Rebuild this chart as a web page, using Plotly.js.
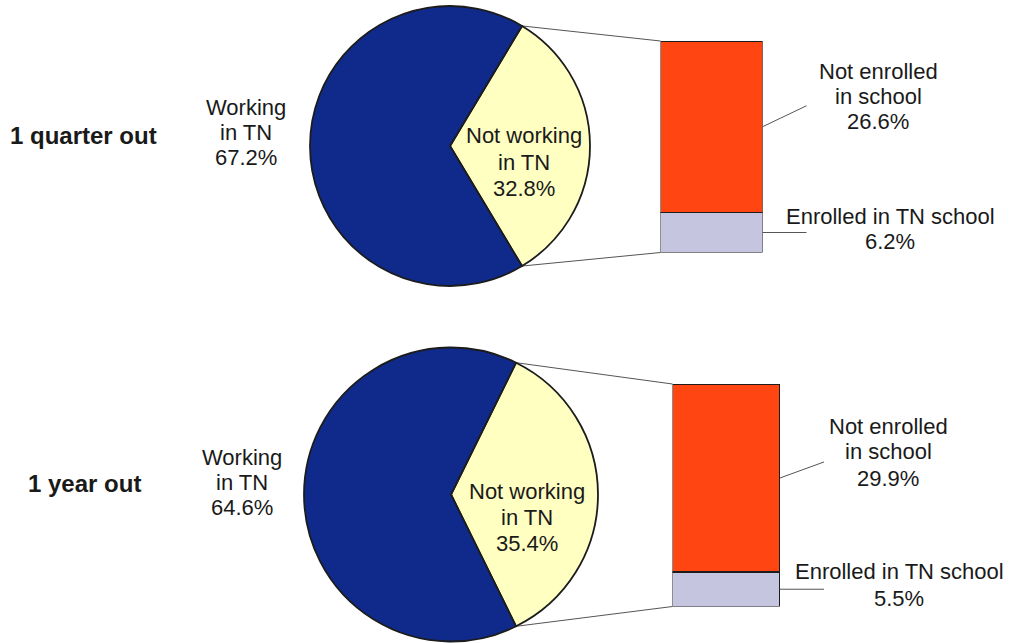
<!DOCTYPE html>
<html>
<head>
<meta charset="utf-8">
<script src="https://cdn.plot.ly/plotly-3.0.1.min.js"></script>
<style>html,body{margin:0;padding:0;background:#fff;}</style>
</head>
<body>
<div id="chart" style="width:1020px;height:643px;"></div>
<script>
// Where graduates are, by time since leaving (percent of all graduates)
const periods = ['1 quarter out', '1 year out'];
const workingInTN = [67.2, 64.6];
const notWorkingInTN = [32.8, 35.4];
const notEnrolled = [26.6, 29.9];
const enrolledInTN = [6.2, 5.5];

// Category text, one entry per drawn line
const workingText = ['Working', 'in TN'];
const notWorkingText = ['Not working', 'in TN'];
const notEnrolledText = ['Not enrolled', 'in school'];
const enrolledText = ['Enrolled in TN school'];

// Page geometry in pixels
const W = 1020, H = 643;
const FONT = '"Liberation Sans", Arial, sans-serif';
const FS = 22;
const COLORS = {
  working: '#0f2a8a',
  notWorking: '#ffffc2',
  notEnrolled: '#ff4511',
  enrolled: '#c5c5df',
  edge: '#1c1c1c',
  connector: '#555555',
  text: '#1a1a1a'
};

const panels = [
  {
    pie: {cx: 450, cy: 146, r: 140},
    bar: {x0: 660.5, x1: 762.5, y0: 41, y1: 252.5},
    periodPos: {x: 9, y: 135},
    workingPos: {x: 246, y: [108, 133, 158]},
    notWorkingPos: {x: 524, y: [135.5, 162, 188]},
    notEnrolledPos: {x: 878, y: [71.7, 96.7, 121.7]},
    enrolledPos: {x: 890, y: [216.7, 241.7]},
    leaderRise: 21
  },
  {
    pie: {cx: 451, cy: 494.5, r: 147},
    bar: {x0: 672.5, x1: 780, y0: 384, y1: 606.5},
    periodPos: {x: 27, y: 483},
    workingPos: {x: 242, y: [457, 482, 507]},
    notWorkingPos: {x: 527, y: [491, 517, 543.5]},
    notEnrolledPos: {x: 888, y: [426, 451.7, 478]},
    enrolledPos: {x: 899, y: [571.7, 598.3]},
    leaderRise: 16
  }
];
const LEADER_LEN = 44;

const px = x => x / W;
const py = y => 1 - y / H;
const pct = v => v.toFixed(1) + '%';

const traces = [];
const shapes = [];
const annotations = [];
const layout = {
  width: W, height: H,
  margin: {l: 0, r: 0, t: 0, b: 0},
  paper_bgcolor: '#ffffff',
  plot_bgcolor: 'rgba(0,0,0,0)',
  showlegend: false,
  barmode: 'stack',
  font: {family: FONT, size: FS, color: COLORS.text}
};

function addLines(lines, pos, anchor, bold, size) {
  lines.forEach((t, k) => {
    annotations.push({
      xref: 'paper', yref: 'paper',
      x: px(pos.x), y: py(pos.y[k]),
      xanchor: anchor, yanchor: 'middle',
      text: bold ? '<b>' + t + '</b>' : t,
      showarrow: false, borderpad: 0,
      font: {family: FONT, size: size || FS, color: COLORS.text}
    });
  });
}

panels.forEach((p, i) => {
  const total = enrolledInTN[i] + notEnrolled[i];
  const ax = i === 0 ? '' : String(i + 1);

  // Pie: "not working" slice centred on 3 o'clock
  const {cx, cy, r} = p.pie;
  traces.push({
    type: 'pie',
    values: [notWorkingInTN[i], workingInTN[i]],
    labels: ['Not working in TN', 'Working in TN'],
    sort: false,
    direction: 'clockwise',
    rotation: 90 - notWorkingInTN[i] / 100 * 180,
    marker: {colors: [COLORS.notWorking, COLORS.working], line: {color: COLORS.edge, width: 1.8}},
    textinfo: 'none',
    hoverinfo: 'label+percent',
    domain: {x: [px(cx - r), px(cx + r)], y: [py(cy + r), py(cy - r)]}
  });

  // Breakdown bar of the "not working" share
  const b = p.bar;
  layout['xaxis' + ax] = {
    domain: [px(b.x0), px(b.x1)], range: [-0.5, 0.5], visible: false,
    fixedrange: true, anchor: 'y' + ax
  };
  layout['yaxis' + ax] = {
    domain: [py(b.y1), py(b.y0)], range: [0, total], visible: false,
    fixedrange: true, anchor: 'x' + ax
  };
  traces.push({
    type: 'bar', x: [0], y: [enrolledInTN[i]], width: [1],
    xaxis: 'x' + ax, yaxis: 'y' + ax, name: 'Enrolled in TN school',
    marker: {color: COLORS.enrolled, line: {color: COLORS.edge, width: 1.5}},
    cliponaxis: false, hoverinfo: 'name+y'
  });
  traces.push({
    type: 'bar', x: [0], y: [notEnrolled[i]], width: [1],
    xaxis: 'x' + ax, yaxis: 'y' + ax, name: 'Not enrolled in school',
    marker: {color: COLORS.notEnrolled, line: {color: COLORS.edge, width: 1.5}},
    cliponaxis: false, hoverinfo: 'name+y'
  });

  // Connectors from the slice edges to the bar corners
  const half = notWorkingInTN[i] / 100 * Math.PI;
  const vx = cx + r * Math.cos(half);
  const vyTop = cy - r * Math.sin(half);
  const vyBot = cy + r * Math.sin(half);
  const conn = {color: COLORS.connector, width: 1};
  shapes.push({type: 'line', xref: 'paper', yref: 'paper',
    x0: px(vx), y0: py(vyTop), x1: px(b.x0), y1: py(b.y0), line: conn, layer: 'below'});
  shapes.push({type: 'line', xref: 'paper', yref: 'paper',
    x0: px(vx), y0: py(vyBot), x1: px(b.x0), y1: py(b.y1), line: conn, layer: 'below'});

  // Leader lines from the middle of each bar segment to its label
  const unitsPerPx = total / (b.y1 - b.y0);
  const redMid = enrolledInTN[i] + notEnrolled[i] / 2;
  const lavMid = enrolledInTN[i] / 2;
  shapes.push({type: 'line', xref: 'paper', yref: 'y' + ax,
    x0: px(b.x1), x1: px(b.x1 + LEADER_LEN),
    y0: redMid, y1: redMid + p.leaderRise * unitsPerPx, line: conn});
  shapes.push({type: 'line', xref: 'paper', yref: 'y' + ax,
    x0: px(b.x1), x1: px(b.x1 + LEADER_LEN),
    y0: lavMid, y1: lavMid, line: conn});

  // Text
  addLines([periods[i]], {x: p.periodPos.x, y: [p.periodPos.y]}, 'left', true, 24);
  addLines(workingText.concat([pct(workingInTN[i])]), p.workingPos, 'center');
  addLines(notWorkingText.concat([pct(notWorkingInTN[i])]), p.notWorkingPos, 'center');
  addLines(notEnrolledText.concat([pct(notEnrolled[i])]), p.notEnrolledPos, 'center');
  addLines(enrolledText.concat([pct(enrolledInTN[i])]), p.enrolledPos, 'center');
});

layout.shapes = shapes;
layout.annotations = annotations;

Plotly.newPlot('chart', traces, layout, {displayModeBar: false, staticPlot: true});
</script>
</body>
</html>
